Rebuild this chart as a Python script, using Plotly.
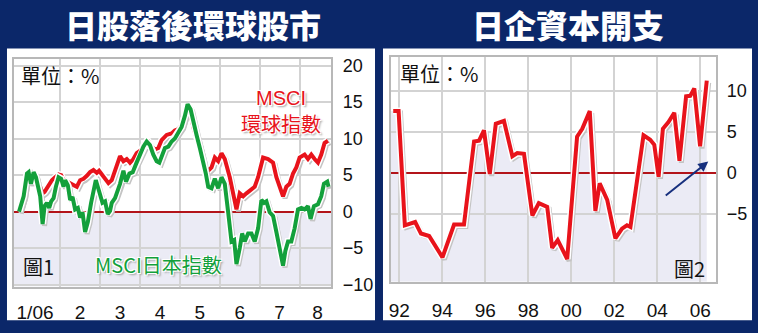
import plotly.graph_objects as go

# ---------------- data: left chart (months since start of 2006, % change) ----------------
world_month = [-0.03, 0.085, 0.168, 0.21, 0.268, 0.335, 0.393, 0.443, 0.50, 0.56, 0.61, 0.668, 0.725,
               0.793, 0.875, 0.96, 1.025, 1.085, 1.168, 1.25, 1.335, 1.418, 1.50, 1.585, 1.668, 1.75,
               1.835, 1.918, 1.975, 2.043, 2.125, 2.21, 2.293, 2.375, 2.46, 2.50, 2.585, 2.668, 2.75,
               2.835, 2.918, 3.043, 3.125, 3.21, 3.293, 3.375, 3.46, 3.543, 3.668, 3.793, 3.875, 3.96,
               4.043, 4.125, 4.193, 4.268, 4.35, 4.46, 4.543, 4.625, 4.71, 4.793, 4.875, 4.96, 5.043,
               5.125, 5.25, 5.335, 5.418, 5.50, 5.585, 5.668, 5.793, 5.875, 5.96, 6.085, 6.21, 6.335,
               6.418, 6.543, 6.585, 6.668, 6.75, 6.835, 6.918, 7.00, 7.125, 7.21, 7.293, 7.375, 7.46,
               7.543, 7.625, 7.71]
world_pct = [0.0, 2.1, 5.0, 5.2, 3.8, 5.2, 4.6, 3.6, 3.4, 2.5, 2.7, 3.2, 3.6,
             4.3, 4.7, 5.1, 5.0, 4.3, 4.1, 3.9, 3.6, 3.4, 4.3, 4.5, 4.9, 5.4,
             5.7, 5.3, 5.6, 5.1, 4.5, 3.9, 4.3, 5.6, 7.0, 7.6, 6.9, 7.2, 6.7,
             7.2, 8.0, 8.5, 9.4, 9.6, 8.9, 8.5, 8.7, 9.8, 10.5, 10.7, 11.1, 11.3,
             11.8, 13.3, 14.2, 13.3, 11.3, 9.4, 7.8, 6.05, 5.6, 6.05, 7.4, 6.9, 8.0,
             7.2, 4.7, 2.1, 0.3, 2.5, 2.1, 2.5, 3.0, 3.4, 4.7, 7.4, 7.2, 6.7,
             4.7, 3.0, 2.1, 3.4, 3.8, 5.2, 6.05, 7.4, 7.8, 7.2, 7.8, 7.2, 6.7,
             7.8, 9.4, 9.7]

japan_month = [-0.03, 0.085, 0.168, 0.21, 0.268, 0.335, 0.393, 0.443, 0.50, 0.56, 0.61, 0.668, 0.725,
               0.775, 0.835, 0.893, 0.96, 1.025, 1.085, 1.125, 1.193, 1.25, 1.31, 1.375, 1.443, 1.50,
               1.56, 1.625, 1.693, 1.775, 1.835, 1.893, 1.943, 2.00, 2.06, 2.125, 2.193, 2.25, 2.293,
               2.375, 2.418, 2.50, 2.585, 2.65, 2.735, 2.818, 2.90, 3.00, 3.085, 3.168, 3.25, 3.335,
               3.418, 3.485, 3.543, 3.625, 3.71, 3.793, 3.875, 3.96, 4.043, 4.125, 4.193, 4.268, 4.335,
               4.418, 4.50, 4.585, 4.65, 4.71, 4.793, 4.875, 4.96, 5.043, 5.125, 5.21, 5.293, 5.36,
               5.418, 5.50, 5.56, 5.625, 5.71, 5.793, 5.875, 5.96, 6.043, 6.11, 6.168, 6.25, 6.335,
               6.418, 6.50, 6.585, 6.643, 6.71, 6.793, 6.875, 6.96, 7.043, 7.125, 7.21, 7.275, 7.36,
               7.46, 7.543, 7.61, 7.693, 7.725]
japan_pct = [0.0, 2.1, 5.2, 5.4, 3.8, 5.4, 4.7, 3.4, 2.1, -1.7, 0.75, 1.2, 0.5,
             1.4, 1.85, 3.4, 4.7, 4.5, 3.4, 4.3, 3.6, 1.6, 2.0, 0.3, 0.5, -0.8,
             -0.1, -2.8, -1.45, 1.2, 3.0, 4.3, 3.4, 2.1, 1.2, 1.4, -0.35, 0.1, 1.2,
             1.85, 2.5, 3.8, 5.6, 4.1, 5.2, 5.4, 6.5, 7.8, 8.9, 9.6, 9.1, 7.8,
             6.9, 6.7, 7.6, 8.7, 8.9, 9.6, 10.0, 10.9, 11.6, 13.1, 14.7, 14.0, 12.2,
             10.5, 8.7, 6.9, 5.2, 3.4, 3.2, 4.5, 3.2, 4.7, 3.8, -0.1, -4.1, -3.9,
             -7.2, -5.0, -3.0, -4.1, -3.0, -3.0, -4.1, -2.3, 1.6, 1.2, 1.4, -0.1, -0.6,
             -2.8, -5.0, -7.4, -5.4, -4.1, -4.1, -2.3, 0.3, 0.5, 0.3, 0.75, -1.0, 0.75,
             1.0, 2.1, 3.8, 4.1, 3.4]

# ---------------- data: right chart (year, % change in capital spending) ----------------
capex_year = [1991.72, 1991.97, 1992.26, 1992.74, 1993.01, 1993.39, 1994.01, 1994.55, 1995.01,
              1995.48, 1995.71, 1995.94, 1996.21, 1996.49, 1996.87, 1997.26, 1997.49, 1997.80,
              1998.19, 1998.49, 1998.88, 1999.11, 1999.37, 1999.81, 2000.27, 2000.51, 2000.86,
              2001.12, 2001.32, 2001.67, 2002.05, 2002.36, 2002.59, 2002.75, 2003.36, 2003.67,
              2003.86, 2004.06, 2004.26, 2004.52, 2004.79, 2005.03, 2005.34, 2005.53, 2005.72,
              2005.99, 2006.30]
capex_pct = [7.5, 7.5, -6.4, -6.0, -7.4, -7.7, -10.3, -6.3, -6.3,
             3.8, 3.9, 5.15, -0.15, 5.95, 6.3, 2.0, 2.4, 2.3,
             -5.2, -3.7, -4.15, -9.15, -8.2, -10.5, 4.4, 5.35, 7.5,
             -4.65, -1.3, -3.3, -8.0, -6.8, -6.4, -6.6, 4.55, 4.0,
             3.4, -0.5, 5.35, 6.15, 7.3, 1.45, 9.3, 9.35, 10.25,
             3.2, 11.2]

# ---------------- ticks / labels ----------------
left_xtick_pos = [0.37, 1.5, 2.5, 3.5, 4.5, 5.5, 6.5, 7.45]
left_xtick_text = ["1/06", "2", "3", "4", "5", "6", "7", "8"]
left_month_bounds = [1, 2, 3, 4, 5, 6, 7]
left_yticks = [-10, -5, 0, 5, 10, 15, 20]
right_xticks = [1992, 1994, 1996, 1998, 2000, 2002, 2004, 2006]
right_xtick_text = ["92", "94", "96", "98", "00", "02", "04", "06"]
right_yticks = [-5, 0, 5, 10]

# ---------------- style ----------------
W, H = 758, 333
NAVY = "#0b2769"
RED = "#e8131b"
GREEN = "#13a03b"
LAV = "#ebebf5"
GRID = "#d3d3d3"
BORDER = "#b8b8b8"
ZERO = "#b3141a"
SHADOW = "#c4c4c4"
XTICKFONT = dict(family="Liberation Sans", size=19, color="#111111")
YTICKFONT = dict(family="Liberation Sans", size=18, color="#111111")
CJK = "Noto Sans CJK TC"

L_XR = [-0.165, 7.79]
L_YR = [-10.28, 20.85]
R_XR = [1991.615, 2006.735]
R_YR = [-13.27, 14.06]


def px(xp):
    return xp / W


def py(yp):
    return 1 - yp / H


fig = go.Figure()


def add_line(xs, ys, color, xa, ya, dx, dy, width=4):
    fig.add_trace(go.Scatter(x=[v + dx for v in xs], y=[v + dy for v in ys], mode="lines",
                             line=dict(color=SHADOW, width=width + 1), xaxis=xa, yaxis=ya,
                             hoverinfo="skip", showlegend=False))
    fig.add_trace(go.Scatter(x=xs, y=ys, mode="lines", line=dict(color="white", width=width + 3),
                             xaxis=xa, yaxis=ya, hoverinfo="skip", showlegend=False))
    fig.add_trace(go.Scatter(x=xs, y=ys, mode="lines", line=dict(color=color, width=width),
                             xaxis=xa, yaxis=ya, hoverinfo="skip", showlegend=False))


add_line(world_month, world_pct, RED, "x", "y", 0.05, -0.26)
add_line(japan_month, japan_pct, GREEN, "x", "y", 0.05, -0.26)
add_line(capex_year, capex_pct, RED, "x2", "y2", 0.09, -0.24)

shapes = [
    dict(type="rect", xref="paper", yref="paper", x0=px(5), x1=px(374), y0=py(328), y1=py(47),
         fillcolor="white", line=dict(width=0), layer="below"),
    dict(type="rect", xref="paper", yref="paper", x0=px(382), x1=px(752), y0=py(328), y1=py(47),
         fillcolor="white", line=dict(width=0), layer="below"),
    dict(type="rect", xref="x domain", yref="y", x0=0, x1=1, y0=L_YR[0], y1=0,
         fillcolor=LAV, line=dict(width=0), layer="below"),
]
# area under the capex curve
path = "M %f,%f " % (R_XR[0], R_YR[0]) + "L %f,%f " % (R_XR[0], capex_pct[0])
path += " ".join("L %f,%f" % (xv, yv) for xv, yv in zip(capex_year, capex_pct))
path += " L %f,%f Z" % (capex_year[-1], R_YR[0])
shapes.append(dict(type="path", xref="x2", yref="y2", path=path, fillcolor=LAV,
                   line=dict(width=0), layer="below"))

ann = []


def text(t, x, y, size=20, color="#111111", xanchor="left", family=CJK, weight=None, shadow=None):
    f = dict(family=family, size=size, color=color)
    if weight:
        f["weight"] = weight
    if shadow:
        f["shadow"] = shadow
    ann.append(dict(text=t, x=px(x), y=py(y), xref="paper", yref="paper", showarrow=False,
                    xanchor=xanchor, yanchor="middle", font=f))


text("日股落後環球股市", 192, 22, size=32, color="white", xanchor="center", weight=900)
text("日企資本開支", 567, 22, size=32, color="white", xanchor="center", weight=900)
text("單位：%", 17, 75)
text("單位：%", 397, 73)
text("圖1", 19, 272)
text("圖2", 707, 275, xanchor="right")
halo = "1px 1px 0 #fff, -1px -1px 0 #fff, 1px -1px 0 #fff, -1px 1px 0 #fff, 2px 2px 2px #999"
text("MSCI", 280, 98, color=RED, xanchor="center", family="Liberation Sans", shadow=halo)
text("環球指數", 280, 125, color=RED, xanchor="center", shadow=halo)
text("MSCI日本指數", 157, 270, color=GREEN, xanchor="center", shadow=halo)

ann.append(dict(x=2006.37, y=1.35, xref="x2", yref="y2", ax=-44, ay=35, axref="pixel", ayref="pixel",
                showarrow=True, arrowhead=2, arrowsize=1, arrowwidth=2, arrowcolor="#17307e", text=""))

axis_common = dict(showline=True, linecolor=BORDER, linewidth=2, mirror=True, ticks="",
                   fixedrange=True)

fig.update_layout(
    width=W, height=H, margin=dict(l=0, r=0, t=0, b=0),
    paper_bgcolor=NAVY, plot_bgcolor="white", showlegend=False,
    shapes=shapes, annotations=ann,
    xaxis=dict(domain=[px(11.7), px(330)], range=L_XR, tickmode="array", tickvals=left_xtick_pos,
               ticktext=left_xtick_text, showgrid=False, zeroline=False, ticklabelstandoff=8,
               tickfont=XTICKFONT,
               minor=dict(tickmode="array", tickvals=left_month_bounds, showgrid=True,
                          gridcolor=GRID, gridwidth=2, ticks=""),
               anchor="y", **axis_common),
    yaxis=dict(domain=[py(293.3), py(58.3)], range=L_YR, side="right", tickmode="array",
               tickvals=left_yticks, showgrid=True, gridcolor=GRID, gridwidth=2,
               zeroline=True, zerolinecolor=ZERO, zerolinewidth=2, ticklabelstandoff=6,
               tickfont=YTICKFONT, anchor="x", **axis_common),
    xaxis2=dict(domain=[px(390), px(716)], range=R_XR, tickmode="array", tickvals=right_xticks,
                ticktext=right_xtick_text, showgrid=True, gridcolor=GRID, gridwidth=2,
                zeroline=False, ticklabelstandoff=10, tickfont=XTICKFONT, anchor="y2", **axis_common),
    yaxis2=dict(domain=[py(288.3), py(56)], range=R_YR, side="right", tickmode="array",
                tickvals=right_yticks, showgrid=True, gridcolor=GRID, gridwidth=2,
                zeroline=True, zerolinecolor=ZERO, zerolinewidth=2, ticklabelstandoff=5,
                tickfont=YTICKFONT, anchor="x2", **axis_common),
)

fig.write_html("out.html")
